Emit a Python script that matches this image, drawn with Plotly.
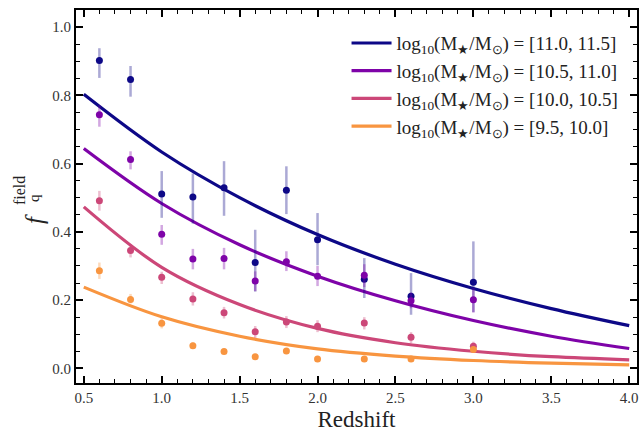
import plotly.graph_objects as go

# ---------------- data ----------------
z_pts = [0.6, 0.8, 1.0, 1.2, 1.4, 1.6, 1.8, 2.0, 2.3, 2.6, 3.0]

blue_y  = [0.902, 0.846, 0.511, 0.502, 0.529, 0.310, 0.522, 0.377, 0.261, 0.211, 0.252]
blue_lo = [0.851, 0.796, 0.441, 0.424, 0.447, 0.225, 0.452, 0.302, 0.206, 0.157, 0.165]
blue_hi = [0.938, 0.886, 0.578, 0.571, 0.607, 0.406, 0.592, 0.455, 0.323, 0.279, 0.372]

purple_y  = [0.743, 0.612, 0.393, 0.320, 0.322, 0.256, 0.312, 0.270, 0.273, 0.198, 0.201]
purple_lo = [0.708, 0.583, 0.362, 0.290, 0.290, 0.226, 0.285, 0.241, 0.238, 0.176, 0.163]
purple_hi = [0.771, 0.636, 0.420, 0.350, 0.353, 0.284, 0.343, 0.300, 0.305, 0.222, 0.235]

pink_y  = [0.491, 0.345, 0.267, 0.203, 0.163, 0.107, 0.136, 0.123, 0.133, 0.091, 0.065]
pink_lo = [0.462, 0.325, 0.247, 0.184, 0.146, 0.089, 0.118, 0.106, 0.114, 0.074, 0.053]
pink_hi = [0.520, 0.364, 0.283, 0.223, 0.180, 0.124, 0.153, 0.141, 0.150, 0.106, 0.078]

orange_y  = [0.286, 0.202, 0.132, 0.066, 0.049, 0.034, 0.051, 0.027, 0.027, 0.027, 0.055]
orange_lo = [0.262, 0.190, 0.117, 0.057, 0.042, 0.028, 0.044, 0.021, 0.021, 0.021, 0.047]
orange_hi = [0.310, 0.218, 0.147, 0.076, 0.056, 0.040, 0.058, 0.033, 0.033, 0.033, 0.063]

z_curve      = [0.5, 1.0, 1.5, 2.0, 2.5, 3.0, 3.5, 4.0]
blue_curve   = [0.803, 0.634, 0.500, 0.392, 0.305, 0.234, 0.175, 0.125]
purple_curve = [0.644, 0.483, 0.362, 0.270, 0.198, 0.140, 0.094, 0.058]
pink_curve   = [0.473, 0.296, 0.187, 0.117, 0.075, 0.050, 0.034, 0.025]
orange_curve = [0.238, 0.151, 0.094, 0.057, 0.036, 0.023, 0.015, 0.010]

labels = [
    "log<sub>10</sub>(M<sub>★</sub>/M<sub>⊙</sub>) = [11.0, 11.5]",
    "log<sub>10</sub>(M<sub>★</sub>/M<sub>⊙</sub>) = [10.5, 11.0]",
    "log<sub>10</sub>(M<sub>★</sub>/M<sub>⊙</sub>) = [10.0, 10.5]",
    "log<sub>10</sub>(M<sub>★</sub>/M<sub>⊙</sub>) = [9.5, 10.0]",
]
colors = ["#0d0887", "#7e03a8", "#cc4778", "#f89540"]
rgba_err = ["rgba(13,8,135,0.35)", "rgba(126,3,168,0.35)",
            "rgba(204,71,120,0.35)", "rgba(248,149,64,0.35)"]

series = [
    (blue_y, blue_lo, blue_hi, blue_curve),
    (purple_y, purple_lo, purple_hi, purple_curve),
    (pink_y, pink_lo, pink_hi, pink_curve),
    (orange_y, orange_lo, orange_hi, orange_curve),
]

FONT = "Liberation Serif"

fig = go.Figure()

# model curves
for (y, lo, hi, cv), lab, col in zip(series, labels, colors):
    fig.add_trace(go.Scatter(
        x=z_curve, y=cv, mode="lines", name=lab,
        line=dict(color=col, width=3.2, shape="spline", smoothing=1.0),
    ))

# data points
for (y, lo, hi, cv), col, ecol in zip(series, colors, rgba_err):
    fig.add_trace(go.Scatter(
        x=z_pts, y=y, mode="markers", showlegend=False,
        marker=dict(color=col, size=7),
        error_y=dict(type="data", symmetric=False,
                     array=[h - v for h, v in zip(hi, y)],
                     arrayminus=[v - l for v, l in zip(y, lo)],
                     color=ecol, thickness=2.5, width=0),
    ))

L, T, W, H = 76, 10, 561, 373

def px(xp):
    return (xp - L) / W

def py(yp):
    return (T + H - yp) / H

annos = [
    ("<i>f</i>", 35, 219, 25),
    ("field", 19, 191, 16),
    ("q", 34, 198, 15),
]
for text, ax, ay, size in annos:
    fig.add_annotation(xref="paper", yref="paper", x=px(ax), y=py(ay),
                       text=text, showarrow=False, textangle=-90,
                       xanchor="center", yanchor="middle",
                       font=dict(family=FONT, color="#222", size=size))

axis_common = dict(
    showline=True, linecolor="black", linewidth=2, mirror="allticks",
    ticks="inside", ticklen=7, tickwidth=1.6, tickcolor="black",
    showgrid=False, zeroline=False,
    tickfont=dict(family=FONT, size=15, color="#333"),
)

fig.update_xaxes(
    range=[0.45, 4.05], tickmode="array",
    tickvals=[0.5, 1.0, 1.5, 2.0, 2.5, 3.0, 3.5, 4.0],
    ticktext=["0.5", "1.0", "1.5", "2.0", "2.5", "3.0", "3.5", "4.0"],
    minor=dict(ticks="inside", ticklen=4, tickwidth=1.4, tickcolor="black", dtick=0.1, tick0=0.5),
    title=dict(text="Redshift", font=dict(family=FONT, size=23, color="#222"), standoff=7),
    **axis_common,
)
fig.update_yaxes(
    range=[-0.043, 1.05], tickmode="array",
    tickvals=[0.0, 0.2, 0.4, 0.6, 0.8, 1.0],
    ticktext=["0.0", "0.2", "0.4", "0.6", "0.8", "1.0"],
    minor=dict(ticks="inside", ticklen=4, tickwidth=1.4, tickcolor="black", dtick=0.05, tick0=0),
    **axis_common,
)

fig.update_layout(
    width=643, height=432,
    margin=dict(l=L, r=643 - L - W, t=T, b=432 - T - H, autoexpand=False),
    plot_bgcolor="white", paper_bgcolor="white",
    font=dict(family=FONT, color="#222"),
    legend=dict(x=0.976, y=0.962, xanchor="right", yanchor="top",
                bgcolor="rgba(255,255,255,0.8)", borderwidth=0,
                font=dict(family=FONT, size=19, color="#222"),
                tracegroupgap=0, itemwidth=40),
)

fig.write_html("out.html", config={"displayModeBar": False},
               post_script="document.body.style.margin='0';document.body.style.overflow='hidden';")
